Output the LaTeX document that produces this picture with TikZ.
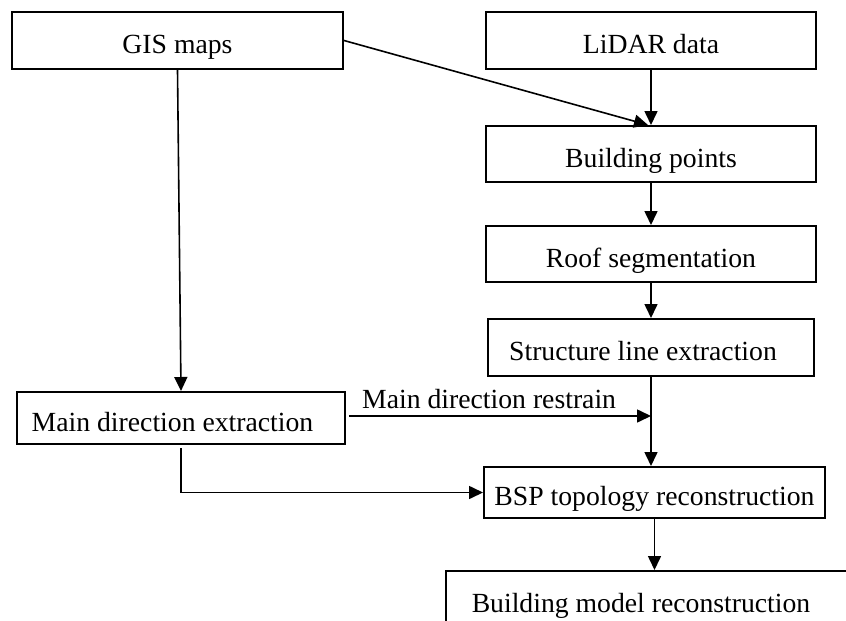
\documentclass[tikz,border=0pt]{standalone}
\usepackage{fontspec}
\setmainfont{Liberation Serif}
\usetikzlibrary{arrows.meta}
\begin{document}
\begin{tikzpicture}[x=1pt,y=-1pt,
  box/.style={draw, line width=2pt, rectangle, inner sep=0pt,
    font=\fontsize{27.7pt}{33pt}\selectfont, text height=26pt, text depth=0pt},
  conn/.style={line width=1.6pt, -{Triangle[length=14pt,width=13pt]}},
  lbl/.style={font=\fontsize{27.7pt}{33pt}\selectfont, inner sep=0pt}]
\useasboundingbox (0,0) rectangle (846,621);

\node[box, minimum width=331pt, minimum height=57pt] (gis) at (177.5,40.5) {GIS maps};
\node[box, minimum width=330pt, minimum height=57pt] (lidar) at (651,40.5) {LiDAR data};
\node[box, minimum width=330pt, minimum height=56pt] (bp) at (651,154) {Building points};
\node[box, minimum width=330pt, minimum height=56pt] (roof) at (651,254) {Roof segmentation};
\node[box, minimum width=326pt, minimum height=57pt] (sle) at (651,347.5) {Structure line extraction\hspace*{16pt}};
\node[box, minimum width=328pt, minimum height=52pt] (mde) at (181,418) {Main direction extraction\hspace*{17pt}};
\node[box, minimum width=341pt, minimum height=51pt] (bsp) at (654.5,492.5) {BSP topology reconstruction};
\node[box, minimum width=440pt, minimum height=56pt] (bm) at (666,599) {Building model reconstruction\hspace*{50pt}};

\coordinate (j) at (651,416);
\node[lbl, anchor=base west] (mdr) at (362,408) {Main direction restrain};

\draw[conn] (gis.east) -- ([xshift=-3pt]bp.north);
\draw[conn] (lidar.south) -- (bp.north);
\draw[conn] (bp.south) -- (roof.north);
\draw[conn] (roof.south) -- (sle.north);
\draw[conn] (sle.south) -- (sle.south |- bsp.north);
\draw[conn] ([xshift=3pt,yshift=2pt]mde.east) -- (j);
\draw[conn] (gis.south) -- (mde.north);
\draw[conn] ([yshift=-3pt]mde.south) |- (bsp.west);
\draw[conn] (bsp.south) -- (bsp.south |- bm.north);
\end{tikzpicture}
\end{document}
